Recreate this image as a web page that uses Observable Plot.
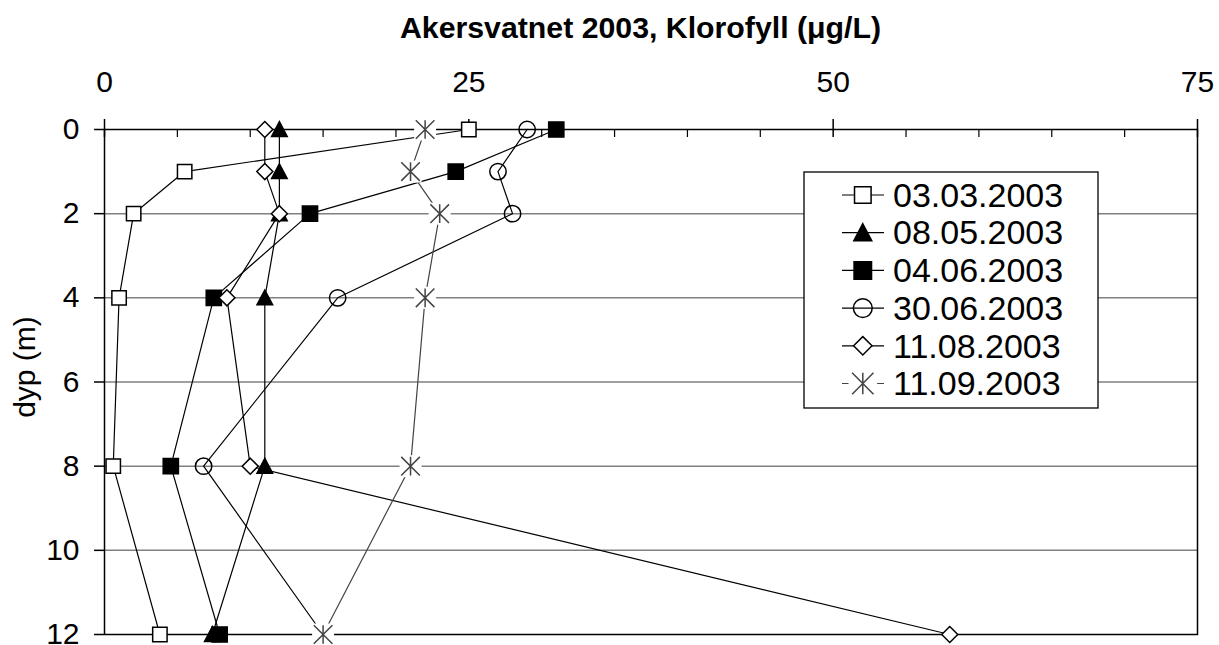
<!DOCTYPE html>
<html><head><meta charset="utf-8">
<script src="https://cdn.jsdelivr.net/npm/d3@7"></script>
<script src="https://cdn.jsdelivr.net/npm/@observablehq/plot@0.6"></script>
<style>
body{margin:0;background:#fff}
svg{font-family:Arial,"Liberation Sans",sans-serif}
</style>
</head><body><div id="chart"></div>
<script>
// ---- data ----
const depths = [0, 1, 2, 4, 8, 12];
const seriesNames = ["03.03.2003", "08.05.2003", "04.06.2003", "30.06.2003", "11.08.2003", "11.09.2003"];
const chl_0303 = [25, 5.5, 2.0, 1.0, 0.6, 3.8];
const chl_0805 = [12, 12, 12, 11, 11, 7.4];
const chl_0406 = [31, 24.1, 14.1, 7.5, 4.55, 7.9];
const chl_3006 = [29, 27, 28, 16, 6.8, 15];
const chl_1108 = [11, 11, 12, 8.4, 10, 58];
const chl_1109 = [22, 21, 23, 22, 21, 15];
const xTickLabels = [0, 25, 50, 75];
const xMinorTicks = [5, 10, 15, 20, 30, 35, 40, 45, 55, 60, 65, 70];
const yTicks = [0, 2, 4, 6, 8, 10, 12];
const yGrid = [2, 4, 6, 8, 10];
const titleText = "Akersvatnet 2003, Klorofyll (\u03bcg/L)";
const yLabel = "dyp (m)";

const valuesBySeries = [chl_0303, chl_0805, chl_0406, chl_3006, chl_1108, chl_1109];
const rows = seriesNames.flatMap((s, i) => depths.map((d, j) => ({series: s, depth: d, chl: valuesBySeries[i][j]})));

// ---- symbols ----
const rad = size => Math.sqrt(size / Math.PI);
const symSquare = {draw(c, size){const r = rad(size); c.moveTo(-r,-r); c.lineTo(r,-r); c.lineTo(r,r); c.lineTo(-r,r); c.closePath();}};
const symTriangle = {draw(c, size){const r = rad(size); c.moveTo(0,-r); c.lineTo(r,r*0.9); c.lineTo(-r,r*0.9); c.closePath();}};
const symDiamond = {draw(c, size){const r = rad(size); c.moveTo(0,-r); c.lineTo(r,0); c.lineTo(0,r); c.lineTo(-r,0); c.closePath();}};
const symCircle = {draw(c, size){const r = rad(size); c.moveTo(r,0); c.arc(0,0,r,0,2*Math.PI); c.closePath();}};
const symAsterisk = {draw(c, size){const r = rad(size); c.moveTo(0,-r); c.lineTo(0,r); c.moveTo(-r,-r); c.lineTo(r,r); c.moveTo(r,-r); c.lineTo(-r,r);}};

const styles = [
  {symbol: symSquare, r: 7.2, fill: "white", stroke: "#000"},
  {symbol: symTriangle, r: 7.8, fill: "#000", stroke: "#000"},
  {symbol: symSquare, r: 7.6, fill: "#000", stroke: "#000"},
  {symbol: symCircle, r: 8.2, fill: "none", stroke: "#000"},
  {symbol: symDiamond, r: 8.0, fill: "white", stroke: "#000"},
  {symbol: symAsterisk, r: 9.3, fill: "none", stroke: "#444", bg: 11}
];

const W = 1219, H = 645, mt = 129, mr = 22, mb = 11, ml = 104;
const frameH = H - mt - mb;
const tickFont = 30;

const seriesMarks = seriesNames.flatMap((s, i) => {
  const st = styles[i];
  const f = d => d.series === s;
  const m = [Plot.line(rows, {filter: f, x: "chl", y: "depth", stroke: st.stroke, strokeWidth: 1.2})];
  if (st.bg) m.push(Plot.dot(rows, {filter: f, x: "chl", y: "depth", symbol: symSquare, r: st.bg, fill: "white", stroke: "none"}));
  m.push(Plot.dot(rows, {filter: f, x: "chl", y: "depth", symbol: st.symbol, r: st.r, fill: st.fill, stroke: st.stroke, strokeWidth: 1.5}));
  return m;
});

const svg = Plot.plot({
  width: W, height: H,
  marginTop: mt, marginRight: mr, marginBottom: mb, marginLeft: ml,
  x: {domain: [0, 75]},
  y: {domain: [0, 12], reverse: true},
  style: {fontFamily: "Arial, 'Liberation Sans', sans-serif", color: "#000", background: "#fff", overflow: "visible"},
  marks: [
    Plot.gridY(yGrid, {stroke: "#808080", strokeOpacity: 1, strokeWidth: 1.5}),
    Plot.frame({stroke: "#000", strokeWidth: 1.5}),
    Plot.axisY({ticks: yTicks, tickSize: 10, tickPadding: 15, fontSize: tickFont, label: null, strokeWidth: 1.5}),
    Plot.axisX({anchor: "top", ticks: xTickLabels, tickSize: 0, tickPadding: 38, fontSize: tickFont, label: null}),
    Plot.tickX(xMinorTicks, {x: d => d, insetBottom: frameH - 8, stroke: "#000", strokeWidth: 1.2}),
    Plot.tickX(xTickLabels, {x: d => d, insetTop: -10, insetBottom: frameH - 8, stroke: "#000", strokeWidth: 1.5}),
    Plot.text([yLabel], {text: d => d, frameAnchor: "left", textAnchor: "middle", lineAnchor: "middle", rotate: -90, dx: -79, dy: -15, fontSize: tickFont, fill: "#000"}),
    ...seriesMarks
  ]
});

// ---- title & legend ----
const root = d3.select(svg);
root.append("text")
  .attr("x", 640.5).attr("y", 38)
  .attr("text-anchor", "middle")
  .attr("font-weight", "bold").attr("font-size", 29)
  .attr("textLength", 481).attr("lengthAdjust", "spacingAndGlyphs")
  .attr("fill", "#000")
  .text(titleText);

const lg = root.append("g").attr("text-anchor", "start");
lg.append("rect").attr("x", 804).attr("y", 172).attr("width", 294).attr("height", 236)
  .attr("fill", "#fff").attr("stroke", "#000").attr("stroke-width", 1.3);
const k = 1.15;
seriesNames.forEach((s, i) => {
  const st = styles[i];
  const cy = 195 + i * 37.7;
  const g = lg.append("g");
  g.append("line").attr("x1", 842).attr("x2", 884).attr("y1", cy).attr("y2", cy)
    .attr("stroke", st.stroke).attr("stroke-width", 1.2);
  if (st.bg) g.append("path").attr("transform", `translate(862.8,${cy})`)
    .attr("d", d3.symbol().type(symSquare).size(Math.PI * (st.bg * 1.3) ** 2)()).attr("fill", "#fff");
  g.append("path").attr("transform", `translate(862.8,${cy})`)
    .attr("d", d3.symbol().type(st.symbol).size(Math.PI * (st.r * k) ** 2)())
    .attr("fill", st.fill).attr("stroke", st.stroke).attr("stroke-width", 1.5);
  g.append("text").attr("x", 893).attr("y", cy + 11.7).attr("text-anchor", "start")
    .attr("font-size", 34).attr("fill", "#000").text(s);
});

document.getElementById("chart").appendChild(svg);
</script>
</body></html>
